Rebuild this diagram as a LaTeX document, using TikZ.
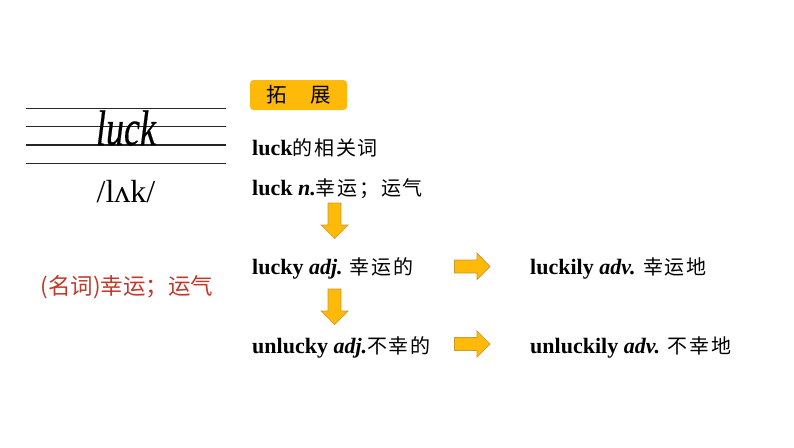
\documentclass[tikz,border=0pt]{standalone}
\usepackage{fontspec}
\setmainfont{Liberation Serif}
\newfontfamily\cjk[LetterSpace=9]{Noto Sans CJK SC}
\newfontfamily\cjkred{Noto Sans CJK SC}
\newfontfamily\scr[FakeBold=0.5]{Liberation Serif Italic}
\definecolor{gold}{HTML}{FFB909}
\definecolor{goldedge}{HTML}{C99A2E}
\definecolor{redtxt}{HTML}{C0392B}
\tikzset{
  wd/.style={anchor=base west,inner sep=0pt,font=\fontsize{22}{26}\selectfont\bfseries},
  staff/.style={line width=1.5pt,black!85},
  blockarrow/.style={fill=gold,draw=goldedge,line width=.7pt,line join=miter},
}
\newcommand{\zh}[1]{{\cjk\fontsize{20}{23}\selectfont\mdseries #1}}
\begin{document}
\begin{tikzpicture}[x=1pt,y=-1pt]
\useasboundingbox (0,0) rectangle (794,447);
% staff
\coordinate (s1a) at (26,108.5); \coordinate (s1b) at (226,108.5);
\coordinate (s2a) at (26,126.5); \coordinate (s2b) at (226,126.5);
\coordinate (s3a) at (26,145);   \coordinate (s3b) at (226,145);
\coordinate (s4a) at (26,163.5); \coordinate (s4b) at (226,163.5);
\draw[staff] (s1a) -- (s1b);
\draw[staff] (s2a) -- (s2b);
\draw[staff,line width=2.2pt] (s3a) -- (s3b);
\draw[staff] (s4a) -- (s4b);
\node[anchor=base,inner sep=0pt,xscale=.72,font=\scr\fontsize{50}{50}\selectfont] (script) at (126,145) {luck};
\node[anchor=base,inner sep=0pt,font=\fontsize{32}{36}\selectfont] (ipa) at (126,202) {/lʌk/};
\node[anchor=base,inner sep=0pt,text=redtxt,font=\cjkred\fontsize{22.5}{26}\selectfont] (meaning) at (127,294) {(名词)幸运；运气};
% label
\node[fill=gold,rounded corners=3.5pt,minimum width=97pt,minimum height=30pt,inner sep=0pt] (tag) at (298.5,95) {\cjkred\fontsize{20.5}{24}\selectfont 拓\hspace{1.15em}展};
% words
\node[wd] (t1) at (252,155) {luck\zh{的相关词}};
\node[wd] (t2) at (252,195) {luck \textit{n.}\zh{幸运；运气}};
\node[wd] (t3) at (252,274) {lucky \textit{adj.} \zh{幸运的}};
\node[wd] (t4) at (252,353) {unlucky \textit{adj.}\zh{不幸的}};
\node[wd] (t5) at (530,274) {luckily \textit{adv.} \zh{幸运地}};
\node[wd] (t6) at (530,353) {unluckily \textit{adv.} \zh{不幸地}};
% block arrows
\draw[blockarrow] (328,203) -- (341,203) -- (341,225) -- (348,225) -- (334.5,238.5) -- (321,225) -- (328,225) -- cycle;
\draw[blockarrow] (328,289) -- (341,289) -- (341,311) -- (348,311) -- (334.5,324.5) -- (321,311) -- (328,311) -- cycle;
\draw[blockarrow] (454.5,260) -- (477,260) -- (477,253) -- (490,266.5) -- (477,279.5) -- (477,273) -- (454.5,273) -- cycle;
\draw[blockarrow] (454.5,337.5) -- (477,337.5) -- (477,331) -- (490,344) -- (477,357) -- (477,350.5) -- (454.5,350.5) -- cycle;
\end{tikzpicture}
\end{document}
